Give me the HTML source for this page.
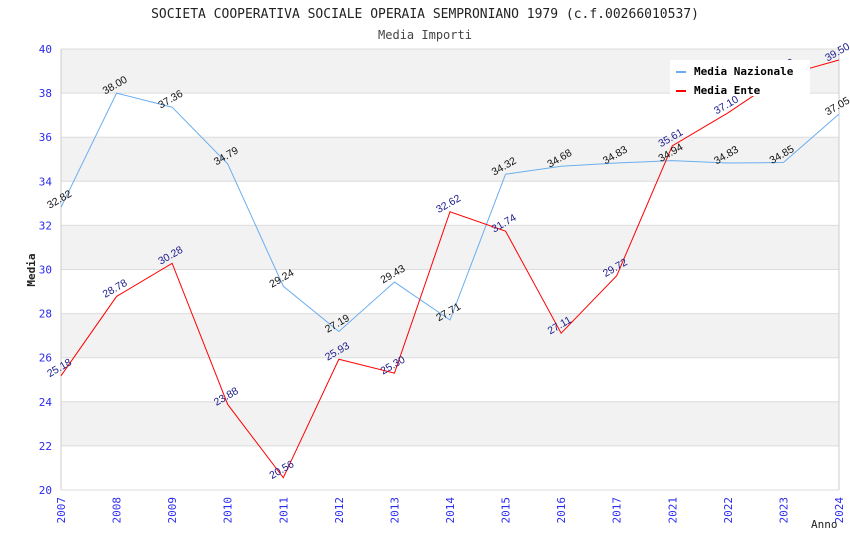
<!DOCTYPE html>
<html><head><meta charset="utf-8">
<style>
body{margin:0;background:#fff;}
svg{display:block;font-family:"DejaVu Sans Mono","Liberation Mono",monospace;}
</style></head>
<body>
<svg id="chart" width="850" height="550">
<text x="425" y="18" text-anchor="middle" font-size="13" fill="#222">SOCIETA COOPERATIVA SOCIALE OPERAIA SEMPRONIANO 1979 (c.f.00266010537)</text>
<text x="425" y="39" text-anchor="middle" font-size="12" fill="#444">Media Importi</text>
<g id="bands"></g>
<g id="grid"></g>
<g id="axes"></g>
<g id="series"></g>
<g id="labels"></g>
<text x="35" y="270" transform="rotate(-90 35 270)" text-anchor="middle" font-size="11" font-weight="bold" fill="#222">Media</text>
<text x="811" y="528" font-size="11" fill="#222">Anno</text>
<g>
<rect x="670" y="60" width="140" height="36" fill="#fff"/>
<g>
<line x1="676" y1="72" x2="686" y2="72" stroke="#6aaef0" stroke-width="2"/>
<text x="694" y="75" font-size="11" font-weight="bold" fill="#000">Media Nazionale</text></g>
<g>
<line x1="676" y1="91" x2="686" y2="91" stroke="#f00" stroke-width="2"/>
<text x="694" y="94" font-size="11" font-weight="bold" fill="#000">Media Ente</text></g>
</g>
</svg>
<script>
const categories=["2007","2008","2009","2010","2011","2012","2013","2014","2015","2016","2017","2021","2022","2023","2024"];
const nazionale=[32.82,38.00,37.36,34.79,29.24,27.19,29.43,27.71,34.32,34.68,34.83,34.94,34.83,34.85,37.05];
const ente=[25.18,28.78,30.28,23.88,20.56,25.93,25.30,32.62,31.74,27.11,29.72,35.61,37.10,38.79,39.50];
const yTicks=[20,22,24,26,28,30,32,34,36,38,40];
const NS="http://www.w3.org/2000/svg";
const L=61,R=839,T=49,B=490,yMin=20,yMax=40;
const xs=i=>L+i*(R-L)/(categories.length-1);
const ys=v=>B-(v-yMin)/(yMax-yMin)*(B-T);
function mk(tag,attrs,parent){const e=document.createElementNS(NS,tag);for(const k in attrs)e.setAttribute(k,attrs[k]);document.getElementById(parent).appendChild(e);return e;}
for(let i=0;i<yTicks.length-1;i++){
  if(yTicks[i]%4===2){
    const r=mk('rect',{x:L,y:ys(yTicks[i+1]),width:R-L,height:ys(yTicks[i])-ys(yTicks[i+1]),fill:'#f2f2f2'},'bands');
    
    
  }
}
yTicks.forEach(t=>{
  const l=mk('line',{x1:L,x2:R,y1:ys(t),y2:ys(t),stroke:'#dcdcdc'},'grid');
  
  
  const tx=mk('text',{x:L-9,y:ys(t)+4,'text-anchor':'end','font-size':11,fill:'#2a2af0'},'axes');
  tx.textContent=t;
  
  
});
mk('line',{x1:L,x2:L,y1:T,y2:B,stroke:'#ccc'},'axes');
mk('line',{x1:R,x2:R,y1:T,y2:B,stroke:'#ccc'},'axes');
categories.forEach((c,i)=>{
  const x=xs(i);
  const tx=mk('text',{x:x+4,y:497,transform:`rotate(-90 ${x+4} 497)`,'text-anchor':'end','font-size':11,fill:'#2a2af0'},'axes');
  tx.textContent=c;
  
  
});
function series(vals,color,labColor,name){
  const p=mk('polyline',{points:vals.map((v,i)=>xs(i)+','+ys(v)).join(' '),fill:'none',stroke:color,'stroke-width':1},'series');
  
  
  vals.forEach((v,i)=>{
    const x=xs(i),y=ys(v);
    const t=mk('text',{x:x,y:y-5,transform:`rotate(-30 ${x} ${y-5})`,'text-anchor':'middle','font-size':10.5,fill:labColor,'font-family':'"Liberation Sans","DejaVu Sans",sans-serif'},'labels');
    t.textContent=v.toFixed(2);
    
    
  });
}
series(nazionale,'#6aaef0','#111','nazionale');
series(ente,'#ff0000','#1a1a8c','ente');
</script>
</body></html>
